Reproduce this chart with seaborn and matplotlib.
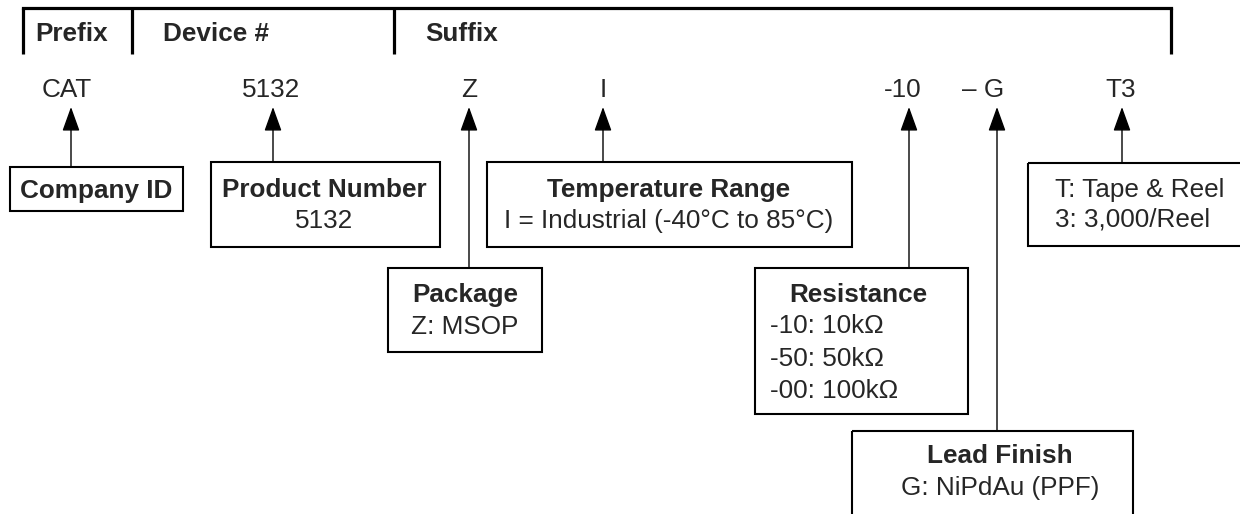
import matplotlib
matplotlib.use("Agg")
import matplotlib.pyplot as plt
from matplotlib.patches import Rectangle
import seaborn as sns

sns.set_style("white")
plt.rcParams['font.family'] = ['Liberation Sans', 'DejaVu Sans']

# header of the ordering code
header_labels = ["Prefix", "Device #", "Suffix"]
# the code pieces
code_parts = ["CAT", "5132", "Z", "I", "-10", "– G", "T3"]
# box titles and details, one per code piece
box_titles = ["Company ID", "Product Number", "Package", "Temperature Range",
              "Resistance", "Lead Finish", None]
box_lines = [[],
             ["5132"],
             ["Z: MSOP"],
             ["I = Industrial (-40°C to 85°C)"],
             ["-10: 10kΩ", "-50: 50kΩ", "-00: 100kΩ"],
             ["G: NiPdAu (PPF)"],
             ["T: Tape & Reel", "3: 3,000/Reel"]]

# layout (pixel coordinates, y downward)
W, H = 1240, 514
header_x = [35, 163, 425]
divider_x = [23, 132, 394, 1171]
code_x = [67, 271, 469, 603, 903, 983, 1121]
arrow_x = [71, 273, 469, 603, 909, 997, 1122]
# box: left, top, right, bottom
boxes = [(10, 167, 183, 211),
         (211, 162, 440, 247),
         (388, 268, 542, 352),
         (487, 162, 852, 247),
         (755, 268, 968, 414),
         (852, 431, 1133, 540),
         (1028, 163, 1250, 246)]
title_base = [198, 197, 302, 197, 302, 463, None]
line_base = [[], [228], [334], [228], [333, 366, 398], [495], [197, 226]]
text_cx = [96, 324, 465, 669, 858, 1000, None]
line_left = [None, None, None, None, 770, None, 1055]

FS = 18.8

fig = plt.figure(figsize=(W / 100, H / 100), dpi=100)
ax = fig.add_axes([0, 0, 1, 1])
ax.set_xlim(0, W)
ax.set_ylim(H, 0)
ax.axis("off")

# bracket on top
ax.plot([divider_x[0], divider_x[-1]], [8, 8], color="black", lw=2.3,
        solid_capstyle="projecting")
for x in divider_x:
    ax.plot([x, x], [8, 54], color="black", lw=2.3, solid_capstyle="butt")
for lab, x in zip(header_labels, header_x):
    ax.text(x, 41, lab, fontsize=FS, fontweight="bold", ha="left", va="baseline")

# code row
for part, x in zip(code_parts, code_x):
    ax.text(x, 97, part, fontsize=FS, ha="center", va="baseline")

# boxes, arrows and texts
for i, (l, t, r, b) in enumerate(boxes):
    ax.add_patch(Rectangle((l, t), r - l, b - t, fill=False, edgecolor="black",
                           lw=1.5, clip_on=True))
    ax.annotate("", xy=(arrow_x[i], 107), xytext=(arrow_x[i], t),
                arrowprops=dict(arrowstyle="-|>,head_length=1.0,head_width=0.36",
                                mutation_scale=15, color="black", lw=1.0,
                                shrinkA=0, shrinkB=0))
    if box_titles[i] is not None:
        ax.text(text_cx[i], title_base[i], box_titles[i], fontsize=FS,
                fontweight="bold", ha="center", va="baseline")
    for line, yb in zip(box_lines[i], line_base[i]):
        if line_left[i] is None:
            ax.text(text_cx[i], yb, line, fontsize=FS, ha="center", va="baseline")
        else:
            ax.text(line_left[i], yb, line, fontsize=FS, ha="left", va="baseline")

fig.savefig("out.png", dpi=100, facecolor="white")
